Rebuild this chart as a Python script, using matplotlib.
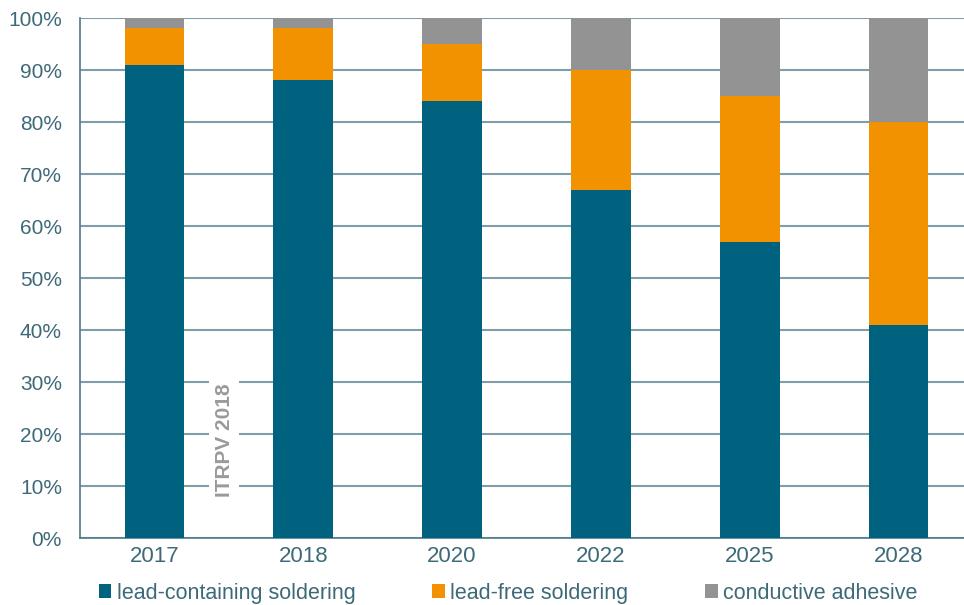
import matplotlib.pyplot as plt
import numpy as np

years = ["2017", "2018", "2020", "2022", "2025", "2028"]
lead_containing = [91, 88, 84, 67, 57, 41]
lead_free = [7, 10, 11, 23, 28, 39]
conductive = [2, 2, 5, 10, 15, 20]

series = [
    ("lead-containing soldering", lead_containing, "#00627f"),
    ("lead-free soldering", lead_free, "#f39200"),
    ("conductive adhesive", conductive, "#939393"),
]

plt.rcParams['font.family'] = ['Liberation Sans', 'DejaVu Sans']

fig = plt.figure(figsize=(9.64, 6.05), dpi=100)
ax = fig.add_axes([80 / 964, 67 / 605, 893 / 964, 520 / 605])

x = np.arange(len(years))
bottom = np.zeros(len(years))
for name, vals, col in series:
    ax.bar(x, vals, 0.4, bottom=bottom, color=col, label=name, zorder=3)
    bottom += np.array(vals)

ax.set_xlim(-0.5, len(years) - 0.5)
ax.set_ylim(0, 100)
ax.set_yticks(range(0, 101, 10))
ax.set_yticklabels([f"{v}%" for v in range(0, 101, 10)])
ax.set_xticks(x)
ax.set_xticklabels(years)

grid_col = "#7f9fa8"
ax.yaxis.grid(True, color=grid_col, linewidth=1.5, zorder=0)
for s in ["top", "right"]:
    ax.spines[s].set_visible(False)
ax.spines["left"].set_color("#4f7b88")
ax.spines["bottom"].set_color("#4f7b88")
ax.spines["left"].set_linewidth(1.2)
ax.spines["bottom"].set_linewidth(1.2)
ax.tick_params(length=0, colors="#3d6a78", labelsize=15)
ax.tick_params(axis="y", pad=13)
ax.tick_params(axis="x", pad=6, labelsize=16)

ax.text(0.468, 18.8, "ITRPV 2018", rotation=90, ha="center", va="center",
        fontsize=15, fontweight="bold", color="#9a9a9a", zorder=4,
        bbox=dict(facecolor="white", edgecolor="none", pad=4))

fig.legend(loc="lower center", bbox_to_anchor=(0.527, -0.03), ncol=3, frameon=False,
           fontsize=15.5, handlelength=0.6, handleheight=0.6, handletextpad=0.25,
           columnspacing=3.55, labelcolor="#3d6a78")

fig.savefig("out.png", dpi=100)
